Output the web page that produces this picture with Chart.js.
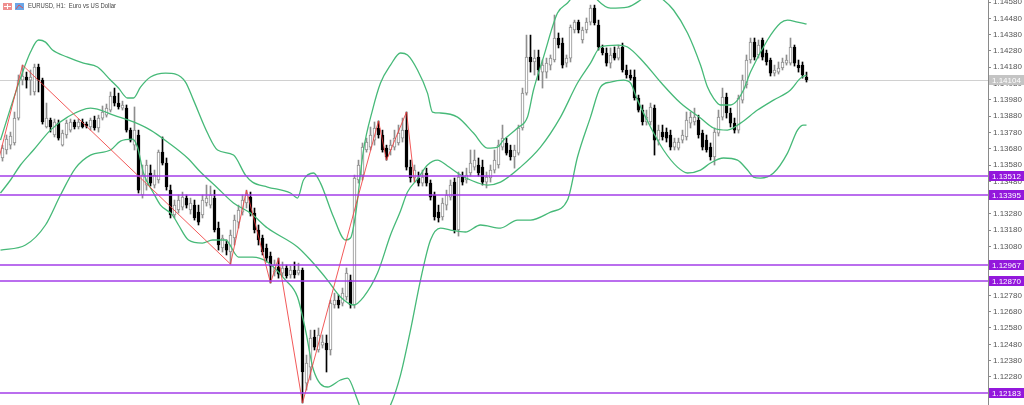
<!DOCTYPE html>
<html lang="es">
<head>
<meta charset="utf-8">
<title>EURUSD, H1</title>
<script src="https://cdn.jsdelivr.net/npm/chart.js@4.4.1/dist/chart.umd.min.js"></script>
<style>
  html, body { margin: 0; padding: 0; background: #fff; overflow: hidden; }
  canvas { display: block; }
</style>
</head>
<body>
<canvas id="grafico" width="1024" height="405"></canvas>
<script>
// velas H1 (apertura, maximo, minimo, cierre)
const aperturas = [
  1.13623,1.13672,1.13702,1.13715,1.13868,1.14101,1.14120,1.14101,1.14028,1.14181,
  1.14101,1.13813,1.13856,1.13764,1.13837,1.13702,1.13764,1.13794,1.13844,1.13813,
  1.13844,1.13831,1.13813,1.13856,1.13807,1.13868,1.13886,1.13917,1.14003,1.13960,
  1.13929,1.13929,1.13794,1.13702,1.13764,1.13396,1.13457,1.13531,1.13457,1.13488,
  1.13659,1.13592,1.13426,1.13273,1.13304,1.13322,1.13377,1.13304,1.13334,1.13291,
  1.13273,1.13347,1.13334,1.13377,1.13193,1.13071,1.13095,1.13046,1.13132,1.13230,
  1.13291,1.13347,1.13383,1.13285,1.13181,1.13132,1.13071,1.13021,1.12923,1.12954,
  1.12917,1.12948,1.12905,1.12936,1.12917,1.12936,1.12242,1.12340,1.12525,1.12445,
  1.12475,1.12488,1.12445,1.12721,1.12751,1.12733,1.12770,1.12874,1.12721,1.13488,
  1.13518,1.13672,1.13690,1.13733,1.13807,1.13764,1.13684,1.13672,1.13690,1.13715,
  1.13745,1.13794,1.13567,1.13500,1.13500,1.13469,1.13531,1.13469,1.13396,1.13291,
  1.13261,1.13334,1.13383,1.13475,1.13181,1.13506,1.13488,1.13531,1.13567,1.13580,
  1.13567,1.13475,1.13500,1.13549,1.13580,1.13690,1.13715,1.13672,1.13629,1.13653,
  1.13807,1.14021,1.14242,1.14212,1.14242,1.14150,1.14150,1.14193,1.14224,1.14359,
  1.14328,1.14205,1.14236,1.14408,1.14457,1.14347,1.14408,1.14457,1.14543,1.14439,
  1.14298,1.14267,1.14205,1.14267,1.14236,1.14304,1.14163,1.14132,1.14120,1.13991,
  1.13917,1.13844,1.13844,1.13929,1.13733,1.13782,1.13782,1.13764,1.13690,1.13684,
  1.13733,1.13752,1.13837,1.13844,1.13856,1.13776,1.13733,1.13690,1.13629,1.13776,
  1.13874,1.13997,1.13899,1.13837,1.13794,1.13978,1.14071,1.14224,1.14334,1.14255,
  1.14347,1.14267,1.14224,1.14144,1.14150,1.14175,1.14205,1.14205,1.14304,1.14193,
  1.14193,1.14120
];
const maximos = [
  1.13702,1.13764,1.13782,1.13905,1.14132,1.14193,1.14150,1.14163,1.14199,1.14199,
  1.14113,1.13960,1.13868,1.13862,1.13856,1.13794,1.13856,1.13862,1.13856,1.13862,
  1.13862,1.13844,1.13868,1.13880,1.13886,1.13942,1.13954,1.14028,1.14052,1.14021,
  1.13972,1.13948,1.13807,1.13936,1.13794,1.13580,1.13610,1.13580,1.13549,1.13672,
  1.13752,1.13623,1.13457,1.13365,1.13396,1.13414,1.13396,1.13377,1.13365,1.13334,
  1.13396,1.13457,1.13451,1.13426,1.13230,1.13150,1.13120,1.13181,1.13273,1.13334,
  1.13396,1.13426,1.13414,1.13316,1.13212,1.13150,1.13095,1.13046,1.12997,1.13009,
  1.12985,1.12966,1.12960,1.12985,1.12978,1.12948,1.12414,1.12567,1.12567,1.12580,
  1.12537,1.12537,1.12751,1.12794,1.12782,1.12825,1.12948,1.12905,1.13518,1.13610,
  1.13715,1.13745,1.13813,1.13844,1.13850,1.13794,1.13702,1.13733,1.13794,1.13825,
  1.13868,1.13905,1.13610,1.13580,1.13537,1.13549,1.13561,1.13488,1.13414,1.13334,
  1.13377,1.13426,1.13488,1.13500,1.13537,1.13537,1.13561,1.13672,1.13672,1.13623,
  1.13610,1.13537,1.13580,1.13672,1.13733,1.13825,1.13745,1.13702,1.13702,1.13825,
  1.14052,1.14377,1.14377,1.14285,1.14285,1.14224,1.14236,1.14255,1.14500,1.14390,
  1.14359,1.14255,1.14439,1.14469,1.14469,1.14426,1.14482,1.14561,1.14561,1.14469,
  1.14316,1.14298,1.14298,1.14304,1.14316,1.14328,1.14193,1.14163,1.14163,1.14009,
  1.13948,1.13917,1.13960,1.13948,1.13825,1.13825,1.13807,1.13794,1.13745,1.13745,
  1.13794,1.13905,1.13905,1.13929,1.13886,1.13794,1.13764,1.13715,1.13807,1.13917,
  1.14052,1.14021,1.13929,1.13868,1.14009,1.14132,1.14255,1.14359,1.14359,1.14347,
  1.14359,1.14285,1.14236,1.14193,1.14212,1.14236,1.14255,1.14359,1.14316,1.14224,
  1.14212,1.14150
];
const minimos = [
  1.13604,1.13647,1.13678,1.13702,1.13856,1.14071,1.14052,1.14009,1.14009,1.14028,
  1.13831,1.13807,1.13782,1.13752,1.13733,1.13696,1.13745,1.13782,1.13801,1.13801,
  1.13807,1.13807,1.13794,1.13794,1.13782,1.13856,1.13874,1.13905,1.13942,1.13923,
  1.13917,1.13782,1.13721,1.13672,1.13408,1.13377,1.13426,1.13451,1.13439,1.13469,
  1.13580,1.13426,1.13255,1.13255,1.13285,1.13304,1.13316,1.13279,1.13242,1.13212,
  1.13255,1.13328,1.13316,1.13169,1.13058,1.13046,1.13028,1.12972,1.13089,1.13193,
  1.13273,1.13316,1.13267,1.13163,1.13089,1.13028,1.12985,1.12856,1.12899,1.12886,
  1.12899,1.12886,1.12886,1.12886,1.12905,1.12120,1.12199,1.12261,1.12445,1.12432,
  1.12457,1.12310,1.12414,1.12702,1.12702,1.12715,1.12751,1.12702,1.12702,1.13469,
  1.13488,1.13659,1.13672,1.13702,1.13745,1.13659,1.13610,1.13641,1.13672,1.13702,
  1.13721,1.13549,1.13475,1.13475,1.13451,1.13451,1.13451,1.13365,1.13242,1.13230,
  1.13242,1.13304,1.13365,1.13163,1.13144,1.13457,1.13469,1.13512,1.13549,1.13512,
  1.13457,1.13439,1.13475,1.13531,1.13561,1.13672,1.13641,1.13610,1.13561,1.13641,
  1.13794,1.14009,1.14150,1.14132,1.14101,1.14052,1.14113,1.14163,1.14212,1.14298,
  1.14175,1.14181,1.14212,1.14390,1.14390,1.14328,1.14390,1.14439,1.14439,1.14285,
  1.14255,1.14187,1.14175,1.14224,1.14224,1.14150,1.14113,1.14101,1.13978,1.13905,
  1.13825,1.13825,1.13825,1.13641,1.13702,1.13733,1.13721,1.13672,1.13672,1.13672,
  1.13715,1.13733,1.13807,1.13825,1.13745,1.13672,1.13659,1.13610,1.13580,1.13758,
  1.13856,1.13868,1.13813,1.13776,1.13776,1.13960,1.14052,1.14205,1.14224,1.14236,
  1.14224,1.14193,1.14126,1.14126,1.14138,1.14163,1.14193,1.14193,1.14187,1.14150,
  1.14113,1.14089
];
const cierres = [
  1.13684,1.13739,1.13758,1.13868,1.14101,1.14126,1.14101,1.14120,1.14181,1.14101,
  1.13844,1.13868,1.13813,1.13844,1.13745,1.13776,1.13837,1.13844,1.13813,1.13844,
  1.13813,1.13819,1.13856,1.13807,1.13868,1.13905,1.13929,1.14003,1.13960,1.13936,
  1.13948,1.13794,1.13733,1.13794,1.13426,1.13518,1.13580,1.13469,1.13518,1.13659,
  1.13592,1.13445,1.13273,1.13334,1.13365,1.13383,1.13334,1.13347,1.13255,1.13230,
  1.13365,1.13377,1.13396,1.13181,1.13089,1.13132,1.13058,1.13150,1.13242,1.13304,
  1.13365,1.13396,1.13285,1.13181,1.13120,1.13046,1.13009,1.12960,1.12966,1.12911,
  1.12948,1.12899,1.12936,1.12905,1.12936,1.12310,1.12365,1.12518,1.12463,1.12537,
  1.12494,1.12445,1.12733,1.12751,1.12721,1.12794,1.12917,1.12721,1.13500,1.13580,
  1.13690,1.13721,1.13764,1.13807,1.13764,1.13672,1.13629,1.13702,1.13745,1.13776,
  1.13794,1.13567,1.13500,1.13549,1.13469,1.13506,1.13469,1.13383,1.13261,1.13255,
  1.13347,1.13396,1.13457,1.13181,1.13506,1.13475,1.13518,1.13592,1.13610,1.13531,
  1.13475,1.13506,1.13549,1.13610,1.13702,1.13745,1.13653,1.13629,1.13672,1.13807,
  1.14021,1.14242,1.14212,1.14236,1.14163,1.14193,1.14205,1.14236,1.14359,1.14316,
  1.14193,1.14236,1.14426,1.14457,1.14408,1.14408,1.14457,1.14543,1.14451,1.14304,
  1.14267,1.14205,1.14255,1.14236,1.14298,1.14163,1.14132,1.14113,1.13991,1.13917,
  1.13844,1.13874,1.13936,1.13733,1.13794,1.13752,1.13745,1.13690,1.13721,1.13721,
  1.13764,1.13856,1.13874,1.13874,1.13764,1.13690,1.13672,1.13629,1.13782,1.13874,
  1.13997,1.13899,1.13837,1.13794,1.13991,1.14101,1.14224,1.14334,1.14242,1.14316,
  1.14242,1.14212,1.14144,1.14163,1.14175,1.14212,1.14224,1.14304,1.14205,1.14175,
  1.14132,1.14104
];

// bandas de Bollinger: [vela, precio]
const bandaSuperior = [
  [-0.5,1.13733],[2,1.13929],[4.5,1.14113],[7,1.14273],[9,1.14347],[10.75,1.14334],[12.5,1.14285],
  [16.25,1.14242],[20.25,1.14205],[23.75,1.14181],[27,1.14101],[29,1.14052],[31.25,1.13991],
  [32.75,1.13991],[34.5,1.14058],[37,1.14120],[40.75,1.14144],[43.25,1.14138],[45.75,1.14089],
  [47.75,1.13978],[51.25,1.13776],[53.75,1.13672],[57.75,1.13641],[60.75,1.13518],[62.5,1.13475],
  [66.25,1.13445],[72,1.13408],[73.75,1.13377],[75.25,1.13488],[77.75,1.13531],[79.5,1.13469],
  [82.75,1.13261],[85.75,1.13120],[87,1.13132],[88.25,1.13273],[90.25,1.13672],[92.5,1.13917],
  [94.5,1.14083],[97,1.14193],[99.5,1.14267],[101.25,1.14255],[103.75,1.14163],[106.25,1.14021],
  [107.5,1.13905],[109.5,1.13899],[113.75,1.13874],[117.75,1.13776],[121.25,1.13684],[123.75,1.13690],
  [125.25,1.13733],[128.75,1.13807],[131.25,1.13874],[132.75,1.14040],[135.25,1.14242],[138.75,1.14512],
  [141.25,1.14574],[143.75,1.14641],[147,1.14653],[148.75,1.14592],[152,1.14543],[156.25,1.14549],
  [159.5,1.14592],[162,1.14641],[165.25,1.14592],[167.75,1.14531],[171.25,1.14390],[174.5,1.14193],
  [176.25,1.14058],[177.75,1.13991],[179.5,1.13948],[182,1.13948],[183.75,1.13978],[185.25,1.14040],
  [187,1.14150],[191.25,1.14347],[194.5,1.14451],[196.25,1.14469],[198.75,1.14457],[201,1.14445]
];
const bandaMedia = [
  [-0.5,1.13408],[2,1.13488],[4.5,1.13580],[7.75,1.13672],[12,1.13794],[16.25,1.13874],[22,1.13929],
  [24.5,1.13917],[27.75,1.13886],[32.75,1.13844],[37,1.13794],[41.25,1.13721],[46.25,1.13623],
  [49.5,1.13537],[53.75,1.13439],[57.75,1.13347],[62,1.13285],[66.25,1.13193],[73.75,1.13077],
  [77,1.12997],[81.25,1.12874],[84.5,1.12770],[87.75,1.12721],[90.25,1.12770],[93.75,1.12917],
  [97,1.13150],[99.5,1.13298],[101.25,1.13414],[103.75,1.13494],[106.25,1.13580],[108.75,1.13610],
  [111.25,1.13574],[113.75,1.13531],[117,1.13488],[121.25,1.13457],[124.5,1.13475],[129.5,1.13567],
  [134.5,1.13690],[139.5,1.13874],[143.75,1.14083],[147,1.14205],[149.5,1.14304],[153.75,1.14316],
  [156.25,1.14304],[160.25,1.14212],[164.5,1.14089],[169.5,1.13960],[174.5,1.13868],[177.75,1.13807],
  [181.25,1.13794],[184.5,1.13837],[188.75,1.13917],[192.75,1.13978],[197,1.14040],[199.5,1.14113],
  [201,1.14132]
];
const bandaInferior = [
  [-0.5,1.13058],[5.75,1.13089],[10.75,1.13212],[14.5,1.13396],[18.25,1.13561],[22,1.13641],
  [27,1.13672],[29.5,1.13727],[32.5,1.13739],[33.75,1.13690],[35.25,1.13531],[37.75,1.13408],
  [39.5,1.13334],[42.5,1.13273],[44,1.13212],[46.5,1.13120],[50,1.13101],[52.5,1.13120],
  [55.75,1.13120],[59,1.13015],[62.5,1.13015],[66.25,1.12985],[70.75,1.12874],[73.75,1.12770],
  [75.75,1.12567],[77.75,1.12322],[81.25,1.12218],[84.5,1.12261],[86.25,1.12273],[88.75,1.12138],
  [90.75,1.12015],[94.5,1.12015],[97,1.12107],[99.5,1.12291],[102,1.12567],[104.5,1.12874],
  [107,1.13120],[109.5,1.13193],[112,1.13181],[115.75,1.13169],[119.5,1.13212],[124.5,1.13193],
  [128.75,1.13242],[132,1.13242],[137,1.13291],[141.25,1.13365],[143.75,1.13629],[147,1.13874],
  [149.5,1.14058],[152,1.14089],[155.25,1.14101],[157,1.14083],[158.75,1.13978],[162,1.13813],
  [165.25,1.13672],[168.75,1.13567],[171.25,1.13531],[174.5,1.13549],[177,1.13592],[180.25,1.13623],
  [183.75,1.13610],[186.25,1.13549],[187.75,1.13506],[189.5,1.13500],[192.75,1.13531],[196.25,1.13653],
  [198.75,1.13794],[200.25,1.13825],[201,1.13825]
];

// zigzag: [vela, precio]
const zigzag = [
  [-1,1.13610],[5,1.14193],[57,1.12972],[61,1.13426],[67,1.12856],[69,1.13009],
  [75,1.12120],[94,1.13850],[96,1.13610],[101,1.13905],[103,1.13475]
];

const niveles = [1.13512, 1.13395, 1.12967, 1.12870, 1.12183];
const precioActual = 1.14104;
const marcasY = [
  1.14580, 1.14480, 1.14380, 1.14280, 1.14180, 1.14080, 1.13980, 1.13880, 1.13780,
  1.13680, 1.13580, 1.13480, 1.13380, 1.13280, 1.13180, 1.13080, 1.12980, 1.12880,
  1.12780, 1.12680, 1.12580, 1.12480, 1.12380, 1.12280, 1.12180
];
const titulo = 'EURUSD, H1:  Euro vs US Dollar';

const velas = aperturas.map((_, i) => i);
const sube = velas.map(i => cierres[i] >= aperturas[i]);

const lineaBanda = (puntos) => ({
  type: 'line',
  data: puntos.map(p => ({ x: p[0], y: p[1] })),
  borderColor: '#46b978',
  borderWidth: 1.3,
  pointRadius: 0,
  cubicInterpolationMode: 'monotone',
  order: 2
});

const dibujos = {
  id: 'dibujos',
  beforeDatasetsDraw(chart) {
    const { ctx, chartArea: a, scales: { y } } = chart;
    const yp = Math.round(y.getPixelForValue(precioActual)) + 0.5;
    ctx.save();
    ctx.strokeStyle = '#d0d0d0';
    ctx.lineWidth = 1;
    ctx.beginPath();
    ctx.moveTo(a.left, yp);
    ctx.lineTo(a.right, yp);
    ctx.stroke();
    ctx.restore();
  },
  afterDatasetsDraw(chart) {
    const { ctx, chartArea: a, scales: { y } } = chart;
    ctx.save();
    ctx.strokeStyle = '#a33ee8';
    ctx.lineWidth = 1.5;
    niveles.forEach(v => {
      const yp = Math.round(y.getPixelForValue(v));
      ctx.beginPath();
      ctx.moveTo(a.left, yp);
      ctx.lineTo(a.right, yp);
      ctx.stroke();
    });
    ctx.restore();
  },
  afterDraw(chart) {
    const { ctx, chartArea: a, scales: { y } } = chart;
    ctx.save();
    ctx.font = '8px "Liberation Sans"';
    ctx.textBaseline = 'middle';
    const etiqueta = (v, fondo) => {
      const yp = Math.round(y.getPixelForValue(v));
      ctx.fillStyle = fondo;
      ctx.fillRect(a.right + 1, yp - 5, 35, 10);
      ctx.fillStyle = '#ffffff';
      ctx.fillText(v.toFixed(5), a.right + 4, yp + 0.5);
    };
    niveles.forEach(v => etiqueta(v, '#9318dc'));
    etiqueta(precioActual, '#c4c4c4');

    // iconos y titulo
    ctx.fillStyle = '#ef8f8f';
    ctx.fillRect(3, 3, 9, 7);
    ctx.fillStyle = '#ffffff';
    ctx.fillRect(4, 6, 7, 1);
    ctx.fillRect(7, 4, 1, 5);
    ctx.fillStyle = '#6aa6e8';
    ctx.fillRect(15, 3, 9, 7);
    ctx.strokeStyle = '#e05050';
    ctx.lineWidth = 1;
    ctx.beginPath();
    ctx.moveTo(16, 9);
    ctx.lineTo(19, 5);
    ctx.lineTo(23, 8);
    ctx.stroke();
    ctx.fillStyle = '#444444';
    ctx.font = '7px "Liberation Sans"';
    ctx.textBaseline = 'middle';
    ctx.fillText(titulo, 28, 6.5, 88);
    ctx.restore();
  }
};

new Chart(document.getElementById('grafico'), {
  type: 'bar',
  data: {
    datasets: [
      {
        type: 'line',
        data: zigzag.map(p => ({ x: p[0], y: p[1] })),
        borderColor: 'rgba(240,60,60,0.85)',
        borderWidth: 1,
        pointRadius: 0,
        tension: 0,
        order: 1
      },
      lineaBanda(bandaSuperior),
      lineaBanda(bandaMedia),
      lineaBanda(bandaInferior),
      {
        data: velas.map(i => ({ x: i, y: [aperturas[i], cierres[i]] })),
        backgroundColor: velas.map(i => sube[i] ? '#ffffff' : '#000000'),
        borderColor: velas.map(i => sube[i] ? '#8e8e8e' : '#000000'),
        borderWidth: 1,
        borderSkipped: false,
        barThickness: 3,
        grouped: false,
        order: 3
      },
      {
        data: velas.map(i => ({ x: i, y: [minimos[i], maximos[i]] })),
        backgroundColor: velas.map(i => sube[i] ? '#8e8e8e' : '#000000'),
        borderWidth: 0,
        barThickness: 1,
        grouped: false,
        order: 4
      }
    ]
  },
  options: {
    responsive: false,
    animation: false,
    devicePixelRatio: 1,
    events: [],
    layout: { padding: 0 },
    plugins: { legend: { display: false }, tooltip: { enabled: false } },
    scales: {
      x: {
        type: 'linear',
        display: false,
        offset: false,
        min: -0.625,
        max: 246.375
      },
      y: {
        position: 'right',
        min: 1.121076,
        max: 1.145923,
        border: { display: true, color: '#8a8a8a' },
        grid: { drawOnChartArea: false, drawTicks: true, tickLength: 3, color: '#8a8a8a' },
        ticks: {
          autoSkip: false,
          padding: 2,
          color: '#555555',
          font: { family: 'Liberation Sans', size: 8 },
          callback: (v) => Number(v).toFixed(5)
        },
        afterBuildTicks: (s) => { s.ticks = marcasY.map(v => ({ value: v })); },
        afterFit: (s) => { s.width = 36; s.paddingTop = 0; s.paddingBottom = 0; }
      }
    }
  },
  plugins: [dibujos]
});
</script>
</body>
</html>
